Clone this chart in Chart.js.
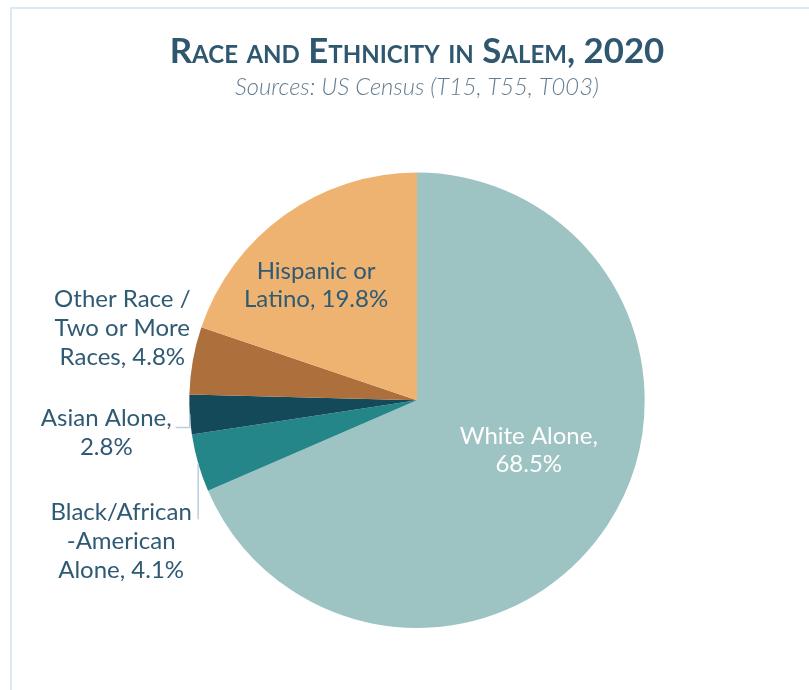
<!DOCTYPE html>
<html><head><meta charset="utf-8">
<script src="https://cdn.jsdelivr.net/npm/chart.js@4/dist/chart.umd.min.js"></script>
<style>
html,body{margin:0;padding:0;background:#fff;overflow:hidden;width:809px;height:690px;}
#frame{position:absolute;left:10px;top:7px;width:1000px;height:1000px;border-left:2px solid #dde8f1;border-top:2px solid #dde8f1;}
#wrap{position:absolute;left:0;top:0;width:809px;height:690px;}
</style></head><body>
<div id="frame"></div>
<div id="wrap"><canvas id="c" width="809" height="690"></canvas></div>
<script>
// ---- data ----
const categories = ['White Alone', 'Black/African-American Alone', 'Asian Alone', 'Other Race / Two or More Races', 'Hispanic or Latino'];
const values = [68.5, 4.1, 2.8, 4.8, 19.8];
const labelLines = [
  ['White Alone,', '{v}%'],
  ['Black/African', '-American', 'Alone, {v}%'],
  ['Asian Alone,', '{v}%'],
  ['Other Race /', 'Two or More', 'Races, {v}%'],
  ['Hispanic or', 'Latino, {v}%']
];
const colors = ['#9dc3c2', '#25868a', '#14495a', '#ad6f3c', '#eeb371'];
const titleText = 'Race and Ethnicity in Salem, 2020';
const subtitleText = 'Sources: US Census (T15, T55, T003)';

// ---- label plugin ----
const sliceLabels = {
  id: 'sliceLabels',
  afterDatasetsDraw(chart, args, opts) {
    const ctx = chart.ctx;
    const meta = chart.getDatasetMeta(0);
    meta.data.forEach((arc, i) => {
      const p = arc.getProps(['x', 'y', 'startAngle', 'endAngle', 'outerRadius'], true);
      const mid = (p.startAngle + p.endAngle) / 2;
      const it = opts.items[i];
      const ex = p.x + Math.cos(mid) * p.outerRadius * it.r;
      const ey = p.y + Math.sin(mid) * p.outerRadius * it.r;
      ctx.save();
      if (it.leader) {
        ctx.strokeStyle = opts.leaderColor;
        ctx.lineWidth = 1.5;
        ctx.beginPath();
        it.leader.forEach((pt, k) => {
          const lx = ex + pt[0], ly = ey + pt[1];
          if (k === 0) ctx.moveTo(lx, ly); else ctx.lineTo(lx, ly);
        });
        ctx.stroke();
      }
      const lines = labelLines[i].map(s => s.replace('{v}', values[i].toFixed(1)));
      ctx.font = opts.font;
      ctx.fillStyle = it.color || opts.color;
      ctx.textAlign = 'center';
      ctx.textBaseline = 'middle';
      const cx = ex + it.dx, cy = ey + it.dy;
      const n = lines.length;
      lines.forEach((ln, k) => {
        ctx.fillText(ln, cx, cy + (k - (n - 1) / 2) * opts.lineHeight);
      });
      ctx.restore();
    });
  }
};

new Chart(document.getElementById('c'), {
  type: 'pie',
  data: {
    labels: categories,
    datasets: [{
      data: values,
      backgroundColor: colors,
      borderWidth: 0
    }]
  },
  options: {
    responsive: false,
    devicePixelRatio: 1,
    animation: false,
    layout: { padding: { left: 25, right: 0, top: 0, bottom: 62 } },
    plugins: {
      legend: { display: false },
      tooltip: { enabled: false },
      title: {
        display: true,
        text: titleText,
        color: '#2f5870',
        font: { family: 'Lato', size: 34.8, weight: 'small-caps bold', lineHeight: 1.2 },
        padding: { top: 31.1, bottom: 0 }
      },
      subtitle: {
        display: true,
        text: subtitleText,
        color: '#627d92',
        font: { family: 'Lato', size: 23.8, style: 'italic', weight: 300, lineHeight: 1.2 },
        padding: { top: 0.5, bottom: 70.7 }
      },
      sliceLabels: {
        font: '24px Lato',
        lineHeight: 28.7,
        color: '#2f5a74',
        leaderColor: '#b9cfe0',
        items: [
          { r: 0.54, dx: 9, dy: -17.5, color: '#ffffff' },
          { r: 1, dx: -77, dy: 78, leader: [[0, 0], [0, 56]] },
          { r: 1, dx: -83.5, dy: 18, leader: [[0, 0], [0, 13], [-14, 13]] },
          { r: 1, dx: -70.5, dy: -32 },
          { r: 0.67, dx: -12, dy: 9 }
        ]
      }
    }
  },
  plugins: [sliceLabels]
});
</script>
</body></html>
